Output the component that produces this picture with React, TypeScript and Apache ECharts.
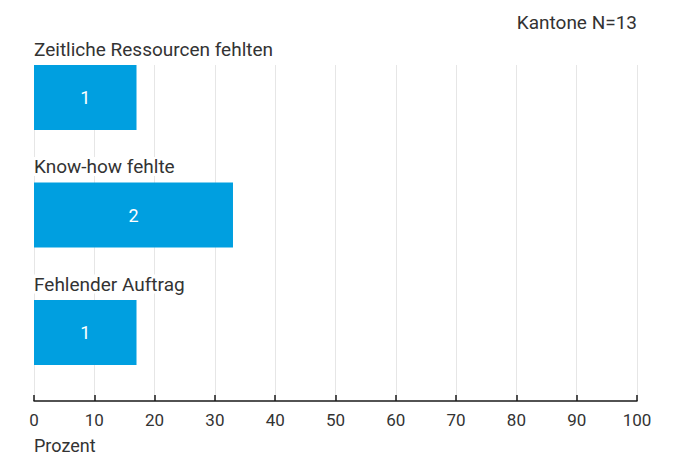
import React, { useEffect, useRef } from "react";
import * as echarts from "echarts";

const categories = ["Zeitliche Ressourcen fehlten", "Know-how fehlte", "Fehlender Auftrag"];
const percentValues = [17, 33, 17];
const counts = [1, 2, 1];
const xTicks = { min: 0, max: 100, interval: 10 };
const axisName = "Prozent";
const noteText = "Kantone N=13";

const FONT = "Roboto, 'Liberation Sans', sans-serif";
const TEXT = "#333333";
const BAR = "#009FE0";

export default function App() {
  const ref = useRef<HTMLDivElement>(null);
  useEffect(() => {
    if (!ref.current) return;
    const chart = echarts.init(ref.current, undefined, { renderer: "svg" });
    chart.setOption({
      animation: false,
      textStyle: { fontFamily: FONT },
      title: [
        {
          text: noteText,
          right: 44,
          top: 12,
          padding: 0,
          textStyle: { fontSize: 19, fontWeight: "normal", color: TEXT, fontFamily: FONT, lineHeight: 20 },
        },
        {
          text: axisName,
          left: 34,
          bottom: -1,
          padding: 0,
          textStyle: { fontSize: 18, fontWeight: "normal", color: TEXT, fontFamily: FONT, lineHeight: 20 },
        },
      ],
      grid: [
        { left: 34, right: 44, top: 65, bottom: 53 },
        { left: 34, right: 44, top: 38.75, height: 352.5 },
      ],
      xAxis: [
        {
          gridIndex: 0,
          type: "value",
          min: xTicks.min,
          max: xTicks.max,
          interval: xTicks.interval,
          axisLine: { show: true, lineStyle: { color: "#1a1a1a", width: 1.5 } },
          axisTick: { show: true, inside: true, length: 6, lineStyle: { color: "#1a1a1a", width: 1.5 } },
          axisLabel: { color: TEXT, fontSize: 17, margin: 10, fontFamily: FONT },
          splitLine: { show: true, lineStyle: { color: "#e6e6e6", width: 1 } },
        },
        {
          gridIndex: 1,
          type: "value",
          min: xTicks.min,
          max: xTicks.max,
          show: false,
        },
      ],
      yAxis: [
        { gridIndex: 0, type: "value", min: 0, max: 1, show: false },
        {
          gridIndex: 1,
          type: "category",
          inverse: true,
          data: categories,
          z: 5,
          axisLine: { show: false },
          axisTick: { show: false },
          splitLine: { show: false },
          axisLabel: {
            inside: true,
            margin: -2,
            align: "left",
            verticalAlign: "bottom",
            padding: [0, 0, 32, 0],
            formatter: (v: string) => `{a|${v}}`,
            rich: {
              a: {
                backgroundColor: "#ffffff",
                padding: [0, 8, 0, 2],
                lineHeight: 33,
                fontSize: 19,
                color: TEXT,
                fontFamily: FONT,
              },
            },
          },
        },
      ],
      series: [
        {
          type: "bar",
          xAxisIndex: 1,
          yAxisIndex: 1,
          data: percentValues,
          barWidth: 65,
          itemStyle: { color: BAR },
          label: {
            show: true,
            position: "inside",
            color: "#ffffff",
            fontSize: 18,
            fontFamily: FONT,
            formatter: (p: any) => String(counts[p.dataIndex]),
          },
        },
      ],
    });
    return () => chart.dispose();
  }, []);
  return (
    <div
      ref={ref}
      style={{ width: 681, height: 454, position: "absolute", left: 0, top: 0 }}
    />
  );
}
